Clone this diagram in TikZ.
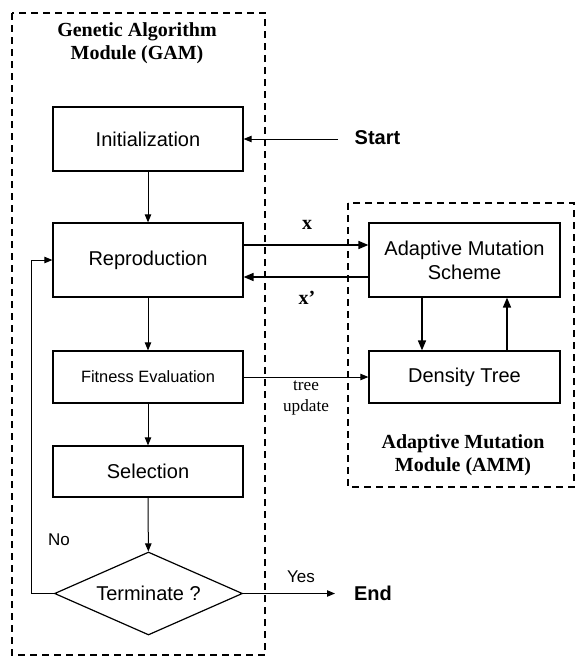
\documentclass[tikz,border=0pt]{standalone}
\usepackage{fontspec}
\setmainfont{Liberation Sans}
\newfontfamily\seriffont{Liberation Serif}
\usetikzlibrary{shapes.geometric,arrows.meta}
\begin{document}
\begin{tikzpicture}[x=0.5pt,y=-0.5pt,
  box/.style={draw, line width=0.6pt, minimum width=95pt, inner sep=0pt, align=center, font=\fontsize{10}{12}\selectfont},
  frame/.style={draw, line width=1pt, dash pattern=on 3.5pt off 2.5pt},
  arr/.style={line width=0.5pt, -{Triangle[length=4pt,width=3.2pt]}},
  arrb/.style={line width=0.8pt, -{Triangle[length=5pt,width=4pt]}},
  title/.style={font=\seriffont\bfseries\fontsize{10}{11.5}\selectfont, align=center},
  lbl/.style={font=\fontsize{8.5}{10}\selectfont}]
\useasboundingbox (0,0) rectangle (577,659);
% frames
\draw[frame] (12,13) rectangle (265,655);
\draw[frame] (348,203) rectangle (574,487);
\node[title] (gamt) at (137,43) {Genetic Algorithm\\Module (GAM)};
\node[title] (ammt) at (463,455) {Adaptive Mutation\\Module (AMM)};
% GAM nodes
\node[box, minimum height=32pt] (init) at (148,139) {Initialization};
\node[box, minimum height=37pt] (rep) at (148,260) {Reproduction};
\node[box, minimum height=26pt, font=\fontsize{8.2}{10}\selectfont] (fe) at (148,377) {Fitness Evaluation};
\node[box, minimum height=25.5pt] (sel) at (148,471.5) {Selection};
\node[draw, line width=0.6pt, diamond, shape aspect=2.27, minimum width=94pt, minimum height=41.5pt, inner sep=0pt, font=\fontsize{10}{12}\selectfont] (term) at (148.5,593.5) {Terminate ?};
% AMM nodes
\node[box, minimum width=95.5pt, minimum height=37pt] (ams) at (464.5,260) {Adaptive Mutation\\Scheme};
\node[box, minimum width=95.5pt, minimum height=26pt] (dt) at (464.5,377) {Density Tree};
% start / end
\node[font=\bfseries\fontsize{10}{12}\selectfont] (start) at (377.5,138) {Start};
\coordinate (s0) at (338,139);
\node[font=\bfseries\fontsize{10}{12}\selectfont] (end) at (373,593) {End};
\coordinate (e0) at (335,593.5);
% flow arrows
\draw[arr] (s0) -- (init.east);
\draw[arr] (init) -- (rep);
\draw[arr] (rep) -- (fe);
\draw[arr] (fe) -- (sel);
\draw[arr] (sel) -- (term);
\draw[arr] (term.east) -- (e0);
\draw[arr] (term.west) -- ++(-22,0) |- (rep.west);
\node[lbl] (no) at (59,540) {No};
\node[lbl] (yes) at (301,577) {Yes};
% GAM <-> AMM
\draw[arrb] ([yshift=7.5pt]rep.east) -- ([yshift=7.5pt]ams.west);
\draw[arrb] ([yshift=-8.5pt]ams.west) -- ([yshift=-8.5pt]rep.east);
\node[font=\seriffont\bfseries\fontsize{10}{12}\selectfont] (xl) at (307,225) {x};
\node[font=\seriffont\bfseries\fontsize{10}{12}\selectfont] (xpl) at (307,298) {x’};
\draw[arrb] ([xshift=-21.25pt]ams.south) -- ([xshift=-21.25pt]dt.north);
\draw[arrb] ([xshift=21.25pt]dt.north) -- ([xshift=21.25pt]ams.south);
\draw[arr] (fe.east) -- (dt.west);
\node[font=\seriffont\fontsize{8.6}{10.5}\selectfont, align=center] (tu) at (306,398) {tree\\update};
\end{tikzpicture}
\end{document}
